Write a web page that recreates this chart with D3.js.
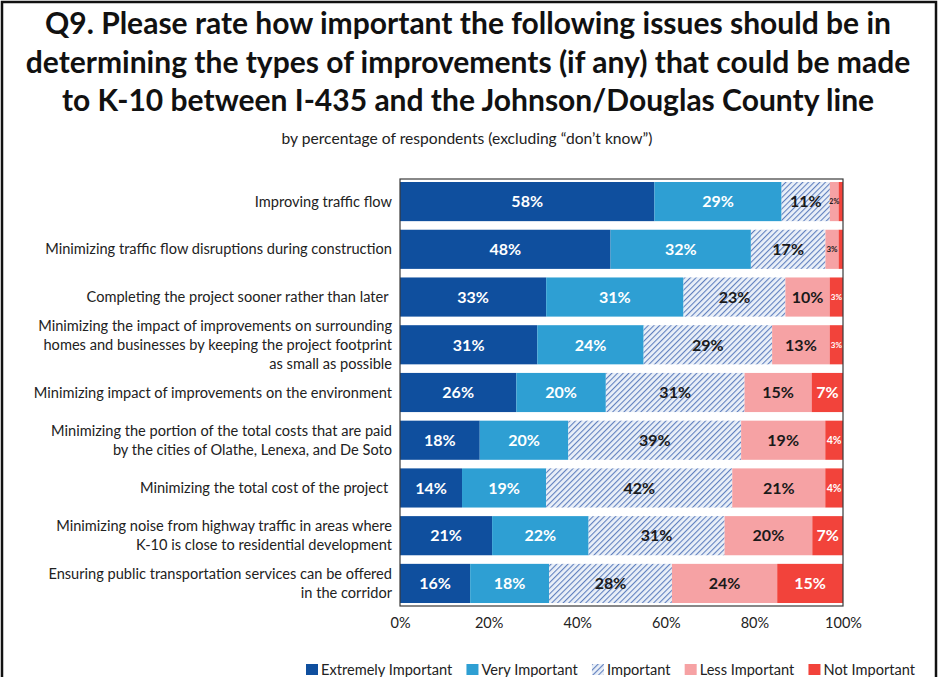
<!DOCTYPE html>
<html>
<head>
<meta charset="utf-8">
<script src="https://cdnjs.cloudflare.com/ajax/libs/d3/7.8.5/d3.min.js"></script>
<style>
  html, body { margin: 0; padding: 0; background: #fff; }
  svg { display: block; font-family: Lato, "Noto Sans", sans-serif; }
</style>
</head>
<body>
<svg id="chart" width="940" height="677"></svg>
<script>
const titleLines = [
  "Q9. Please rate how important the following issues should be in",
  "determining the types of improvements (if any) that could be made",
  "to K-10 between I-435 and the Johnson/Douglas County line"
];
const subtitle = "by percentage of respondents (excluding \u201cdon\u2019t know\u201d)";

const categories = [
  ["Improving traffic flow"],
  ["Minimizing traffic flow disruptions during construction"],
  ["Completing the project sooner rather than later "],
  ["Minimizing the impact of improvements on surrounding", "homes and businesses by keeping the project footprint", "as small as possible"],
  ["Minimizing impact of improvements on the environment"],
  ["Minimizing the portion of the total costs that are paid", "by the cities of Olathe, Lenexa, and De Soto"],
  ["Minimizing the total cost of the project "],
  ["Minimizing noise from highway traffic in areas where", "K-10 is close to residential development"],
  ["Ensuring public transportation services can be offered", "in the corridor"]
];

const seriesNames = ["Extremely Important", "Very Important", "Important", "Less Important", "Not Important"];
const extremely = [58, 48, 33, 31, 26, 18, 14, 21, 16];
const very      = [29, 32, 31, 24, 20, 20, 19, 22, 18];
const important = [11, 17, 23, 29, 31, 39, 42, 31, 28];
const less      = [2, 3, 10, 13, 15, 19, 21, 20, 24];
const notImp    = [1, 1, 3, 3, 7, 4, 4, 7, 15];

const tickValues = [0, 0.2, 0.4, 0.6, 0.8, 1];

const colors = ["#0f4f9e", "#2e9fd3", "url(#hatch)", "#f6a2a4", "#f2433b"];
const labelColors = ["#ffffff", "#ffffff", "#1a1a1a", "#1a1a1a", "#ffffff"];
const legendFill = ["#0f4f9e", "#2e9fd3", "url(#hatchLegend)", "#f6a2a4", "#f2433b"];

const svg = d3.select("#chart");
const defs = svg.append("defs");

function makeHatch(id) {
  const p = defs.append("pattern")
    .attr("id", id)
    .attr("patternUnits", "userSpaceOnUse")
    .attr("width", 4).attr("height", 4)
    .attr("patternTransform", "rotate(45)");
  p.append("rect").attr("width", 4).attr("height", 4).attr("fill", "#eaf0f8");
  p.append("line").attr("x1", 0.6).attr("y1", 0).attr("x2", 0.6).attr("y2", 4)
    .attr("stroke", "#4a6fb5").attr("stroke-width", 0.95);
}
makeHatch("hatch");
makeHatch("hatchLegend");

// outer frame
svg.append("rect")
  .attr("x", 2).attr("y", 2).attr("width", 934).attr("height", 720)
  .attr("fill", "none").attr("stroke", "#111").attr("stroke-width", 2.5);

// title
const titleSel = svg.append("g").selectAll("text").data(titleLines).join("text")
  .attr("x", 468)
  .attr("y", (d, i) => 34 + i * 38.5)
  .attr("text-anchor", "middle")
  .attr("font-weight", 700)
  .attr("fill", "#111")
  .attr("font-size", 28)
  .text(d => d);
const w2 = titleSel.nodes()[1].getComputedTextLength();
titleSel.attr("font-size", 28 * 885 / w2);

const sub = svg.append("text")
  .attr("x", 467).attr("y", 139)
  .attr("dy", "0.35em")
  .attr("text-anchor", "middle")
  .attr("font-size", 14)
  .attr("fill", "#222")
  .text(subtitle);
const sw = sub.node().getComputedTextLength();
sub.attr("font-size", 14 * 371 / sw);

// data
const data = categories.map((c, i) => ({
  idx: i,
  "Extremely Important": extremely[i],
  "Very Important": very[i],
  "Important": important[i],
  "Less Important": less[i],
  "Not Important": notImp[i]
}));

const stacked = d3.stack().keys(seriesNames).offset(d3.stackOffsetExpand)(data);

const x = d3.scaleLinear().domain([0, 1]).range([400, 843]);
const y = d3.scaleBand().domain(d3.range(categories.length)).range([179, 606])
  .paddingInner(0.18).paddingOuter(0.063);

const plot = svg.append("g");

stacked.forEach((layer, si) => {
  plot.append("g").selectAll("rect").data(layer).join("rect")
    .attr("x", d => x(d[0]))
    .attr("y", (d, i) => y(i))
    .attr("width", d => x(d[1]) - x(d[0]))
    .attr("height", y.bandwidth())
    .attr("fill", colors[si]);
});

stacked.forEach((layer, si) => {
  const key = seriesNames[si];
  plot.append("g").selectAll("text").data(layer.filter(d => x(d[1]) - x(d[0]) > 6)).join("text")
    .attr("x", d => (x(d[0]) + x(d[1])) / 2)
    .attr("y", d => y(d.data.idx) + y.bandwidth() / 2)
    .attr("dy", "0.36em")
    .attr("text-anchor", "middle")
    .attr("font-weight", 700)
    .attr("fill", labelColors[si])
    .attr("font-size", d => {
      const w = x(d[1]) - x(d[0]);
      return w >= 25 ? 16 : Math.max(7, w * 0.6);
    })
    .text(d => d.data[key] + "%");
});

// plot border
svg.append("rect")
  .attr("x", x(0)).attr("y", 179)
  .attr("width", x(1) - x(0)).attr("height", 606 - 179)
  .attr("fill", "none").attr("stroke", "#3a3a3a").attr("stroke-width", 1.2);

// category labels
const catG = svg.append("g");
categories.forEach((lines, i) => {
  const cy = y(i) + y.bandwidth() / 2;
  const lh = 19;
  const t = catG.append("text")
    .attr("text-anchor", "end")
    .attr("font-size", 14.6)
    .attr("fill", "#222")
    .style("white-space", "pre");
  lines.forEach((ln, j) => {
    t.append("tspan")
      .attr("x", 392)
      .attr("y", cy + (j - (lines.length - 1) / 2) * lh)
      .attr("dy", "0.35em")
      .text(ln);
  });
});

// x axis
const xAxis = d3.axisBottom(x).tickValues(tickValues).tickFormat(d3.format(".0%")).tickSize(0).tickPadding(0);
const axG = svg.append("g").attr("transform", "translate(0,618)").call(xAxis);
axG.select(".domain").remove();
axG.selectAll("text").attr("font-size", 14.5).attr("fill", "#222").attr("font-family", "Lato, 'Noto Sans', sans-serif");

// legend
const legG = svg.append("g");
const items = seriesNames.map((name, i) => {
  const r = legG.append("rect").attr("y", 664).attr("width", 12).attr("height", 11).attr("fill", legendFill[i]);
  const t = legG.append("text").attr("y", 670).attr("dy", "0.35em")
    .attr("font-size", 14.6).attr("fill", "#222").text(name);
  return { r, t, w: t.node().getComputedTextLength() };
});
const legStart = 306, legEnd = 915;
const used = d3.sum(items, d => 15 + d.w);
const gap = (legEnd - legStart - used) / (items.length - 1);
let lx = legStart;
items.forEach(d => {
  d.r.attr("x", lx);
  d.t.attr("x", lx + 15);
  lx += 15 + d.w + gap;
});
</script>
</body>
</html>
